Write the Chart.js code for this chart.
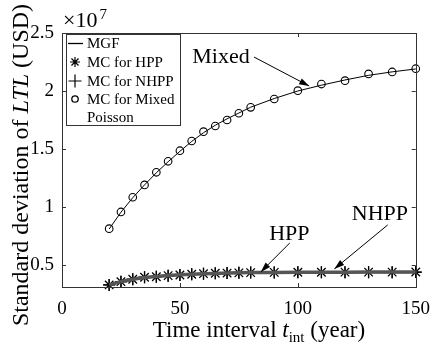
<!DOCTYPE html>
<html><head><meta charset="utf-8">
<script src="https://cdn.jsdelivr.net/npm/chart.js@4/dist/chart.umd.min.js"></script>
<style>html,body{margin:0;padding:0;background:#fff}canvas{display:block}</style>
</head><body>
<canvas id="c" width="441" height="346"></canvas>
<script>
// ---- data (values in units of 1e7 USD) ----
const timeInterval = [20,25,30,35,40,45,50,55,60,65,70,75,80,90,100,110,120,130,140,150];
const mgfMixed = [0.81,0.955,1.08,1.19,1.295,1.39,1.48,1.565,1.64,1.705,1.76,1.81,1.86,1.935,2.0,2.05,2.095,2.135,2.165,2.19];
const mgfHPP   = [0.328,0.356,0.377,0.392,0.401,0.409,0.415,0.42,0.424,0.427,0.43,0.432,0.434,0.436,0.437,0.438,0.438,0.439,0.439,0.439];
const mgfNHPP  = [0.328,0.356,0.377,0.392,0.401,0.409,0.415,0.42,0.424,0.427,0.43,0.432,0.434,0.436,0.437,0.438,0.438,0.439,0.439,0.439];
const mcHPP    = [0.328,0.356,0.377,0.394,0.399,0.408,0.414,0.42,0.425,0.428,0.43,0.432,0.434,0.436,0.437,0.437,0.438,0.438,0.438,0.439];
const mcNHPP   = [0.328,0.356,0.377,0.394,0.399,0.408,0.414,0.42,0.425,0.428,0.43,0.432,0.434,0.436,0.437,0.437,0.438,0.438,0.438,0.439];
const mcMixed  = [0.813,0.957,1.084,1.19,1.299,1.394,1.485,1.569,1.649,1.698,1.75,1.808,1.859,1.931,2.003,2.06,2.089,2.147,2.164,2.192];
const xTicks = [0,50,100,150];
const yTicks = [0.5,1,1.5,2,2.5];
const legendLabels = ['MGF','MC for HPP','MC for NHPP','MC for Mixed','Poisson'];
const annotations = [
  {text:'Mixed', tx:67.4, ty:2.29, x0:81.4, y0:2.293, x1:104.8, y1:2.043},
  {text:'HPP',   tx:96.4, ty:0.767, x0:96.6, y0:0.69, x1:84.3, y1:0.44},
  {text:'NHPP',  tx:134.8, ty:0.94, x0:138.1, y0:0.845, x1:115.5, y1:0.466}
];

const pts = arr => timeInterval.map((x,i)=>({x:x, y:arr[i]}));
const SERIF = '"Liberation Serif", "Times New Roman", serif';
const AX = '#333';

function arrow(ctx, x0,y0,x1,y1){
  ctx.beginPath(); ctx.moveTo(x0,y0); ctx.lineTo(x1,y1); ctx.stroke();
  const a = Math.atan2(y1-y0, x1-x0), L=10, W=3.2;
  ctx.beginPath();
  ctx.moveTo(x1,y1);
  ctx.lineTo(x1-L*Math.cos(a)+W*Math.sin(a), y1-L*Math.sin(a)-W*Math.cos(a));
  ctx.lineTo(x1-L*Math.cos(a)-W*Math.sin(a), y1-L*Math.sin(a)+W*Math.cos(a));
  ctx.closePath(); ctx.fill();
}

const decor = {
  id:'decor',
  afterDraw(chart){
    const ctx = chart.ctx, a = chart.chartArea, xs = chart.scales.x, ys = chart.scales.y;
    ctx.save();
    // axes box + inward ticks
    ctx.strokeStyle = AX; ctx.lineWidth = 1;
    ctx.strokeRect(Math.round(a.left)+0.5, Math.round(a.top)+0.5, Math.round(a.right-a.left), Math.round(a.bottom-a.top));
    ctx.beginPath();
    xTicks.forEach(v=>{ const px=Math.round(xs.getPixelForValue(v))+0.5;
      ctx.moveTo(px,a.bottom); ctx.lineTo(px,a.bottom-4); ctx.moveTo(px,a.top); ctx.lineTo(px,a.top+4); });
    yTicks.forEach(v=>{ const py=Math.round(ys.getPixelForValue(v))+0.5;
      ctx.moveTo(a.left,py); ctx.lineTo(a.left+4,py); ctx.moveTo(a.right,py); ctx.lineTo(a.right-4,py); });
    ctx.stroke();

    // annotations
    ctx.fillStyle='#000'; ctx.strokeStyle='#000'; ctx.lineWidth=1;
    ctx.font = '22px '+SERIF; ctx.textAlign='center'; ctx.textBaseline='middle';
    annotations.forEach(n=>{
      ctx.fillText(n.text, xs.getPixelForValue(n.tx), ys.getPixelForValue(n.ty));
      arrow(ctx, xs.getPixelForValue(n.x0), ys.getPixelForValue(n.y0), xs.getPixelForValue(n.x1), ys.getPixelForValue(n.y1));
    });

    // legend
    const lx = a.left+4, ly = a.top+1, lw = 114, lh = 91;
    ctx.fillStyle='#fff'; ctx.fillRect(lx,ly,lw,lh);
    ctx.strokeStyle=AX; ctx.strokeRect(Math.round(lx)+0.5, Math.round(ly)+0.5, lw, lh);
    ctx.fillStyle='#000'; ctx.strokeStyle='#000';
    ctx.font='15px '+SERIF; ctx.textAlign='left'; ctx.textBaseline='alphabetic';
    const base=[14,33,52,70,88], mx = lx+9, tx = lx+21;
    legendLabels.forEach((t,i)=>ctx.fillText(t, tx, ly+base[i]));
    ctx.lineWidth=1.3;
    ctx.beginPath(); ctx.moveTo(lx+2, ly+9.5); ctx.lineTo(lx+17, ly+9.5); ctx.stroke();
    ctx.lineWidth=1.2;
    // star
    let cy = ly+28, r=5; ctx.beginPath();
    ctx.moveTo(mx-r,cy); ctx.lineTo(mx+r,cy); ctx.moveTo(mx,cy-r); ctx.lineTo(mx,cy+r);
    const d=r*0.707; ctx.moveTo(mx-d,cy-d); ctx.lineTo(mx+d,cy+d); ctx.moveTo(mx-d,cy+d); ctx.lineTo(mx+d,cy-d); ctx.stroke();
    // plus
    cy = ly+47; r=6.5; ctx.beginPath();
    ctx.moveTo(mx-r,cy); ctx.lineTo(mx+r,cy); ctx.moveTo(mx,cy-r); ctx.lineTo(mx,cy+r); ctx.stroke();
    // circle
    ctx.lineWidth=1.3;
    cy = ly+65; ctx.beginPath(); ctx.arc(mx,cy,3.2,0,Math.PI*2); ctx.stroke();

    // x10^7
    ctx.font='22px '+SERIF; ctx.fillText('\u00d710', a.left+1, a.top-6);
    const w = ctx.measureText('\u00d710').width;
    ctx.font='15px '+SERIF; ctx.fillText('7', a.left+3+w, a.top-14);

    // x axis title
    ctx.textBaseline='alphabetic';
    const parts = [['Time interval ','23px '+SERIF,0],['t','italic 23px '+SERIF,0],['int','15px '+SERIF,5],[' (year)','23px '+SERIF,0]];
    let tw=0; parts.forEach(p=>{ctx.font=p[1]; tw+=ctx.measureText(p[0]).width;});
    let x = 259 - tw/2;
    parts.forEach(p=>{ctx.font=p[1]; ctx.fillText(p[0], x, 337+p[2]); x+=ctx.measureText(p[0]).width;});

    // y axis title
    ctx.save(); ctx.translate(28, 165); ctx.rotate(-Math.PI/2);
    const yp = [['Standard deviation of ','24px '+SERIF],['LTL','italic 24px '+SERIF],[' (USD)','24px '+SERIF]];
    tw=0; yp.forEach(p=>{ctx.font=p[1]; tw+=ctx.measureText(p[0]).width;});
    x = -tw/2;
    yp.forEach(p=>{ctx.font=p[1]; ctx.fillText(p[0], x, 0); x+=ctx.measureText(p[0]).width;});
    ctx.restore();
    ctx.restore();
  }
};

new Chart(document.getElementById('c'), {
  type:'line',
  data:{ datasets:[
    {label:'MGF NHPP', data:pts(mgfNHPP), borderColor:'#555', borderWidth:3.5, pointRadius:0, clip:false},
    {label:'MGF HPP', data:pts(mgfHPP), borderColor:'#000', borderWidth:2.2, pointRadius:0, clip:false},
    {label:'MGF', data:pts(mgfMixed), borderColor:'#000', borderWidth:1, pointRadius:0, clip:false},
    {label:'MC for HPP', data:pts(mcHPP), showLine:false, pointStyle:'star', pointRadius:6, pointBorderColor:'#000', pointBorderWidth:1.3, clip:false},
    {label:'MC for NHPP', data:pts(mcNHPP), showLine:false, pointStyle:'cross', pointRadius:6, pointBorderColor:'#000', pointBorderWidth:1.2, clip:false},
    {label:'MC for Mixed Poisson', data:pts(mcMixed), showLine:false, pointStyle:'circle', pointRadius:3.8, pointBackgroundColor:'rgba(0,0,0,0)', pointBorderColor:'#000', pointBorderWidth:1.1, clip:false}
  ]},
  options:{
    responsive:false, animation:false, devicePixelRatio:1,
    layout:{padding:{left:0, top:33, right:14, bottom:0}},
    plugins:{legend:{display:false}, tooltip:{enabled:false}},
    elements:{line:{tension:0}},
    scales:{
      x:{type:'linear', min:0, max:150,
        afterBuildTicks:s=>{s.ticks = xTicks.map(v=>({value:v}));},
        afterFit:s=>{s.height = 59;},
        grid:{display:false, drawTicks:false}, border:{display:false},
        ticks:{padding:11, color:'#000', font:{family:SERIF, size:19}, maxRotation:0, autoSkip:false, callback:v=>String(v)}},
      y:{type:'linear', min:0.31, max:2.5,
        afterBuildTicks:s=>{s.ticks = yTicks.map(v=>({value:v}));},
        afterFit:s=>{s.width = 62;},
        grid:{display:false, drawTicks:false}, border:{display:false},
        ticks:{padding:8, color:'#000', font:{family:SERIF, size:19}, autoSkip:false, callback:v=>String(v)}}
    }
  },
  plugins:[decor]
});
</script>
</body></html>
